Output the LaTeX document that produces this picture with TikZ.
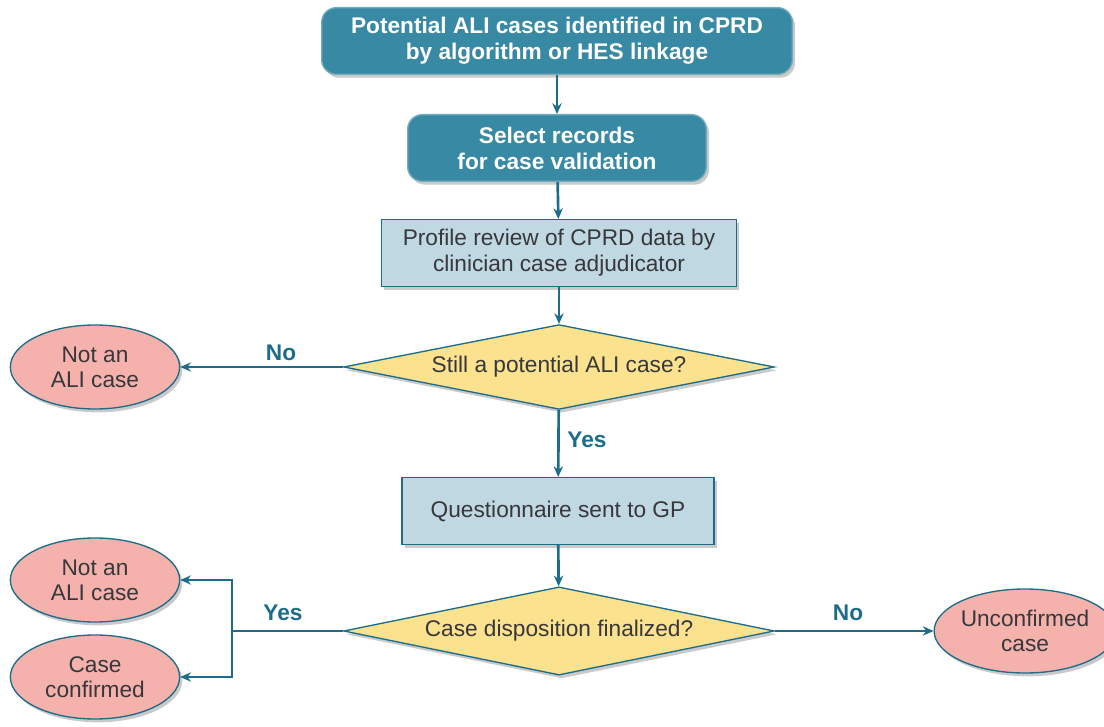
\documentclass[tikz,border=0pt]{standalone}
\usepackage{fontspec}
\setmainfont{Liberation Sans}
\usetikzlibrary{shapes.geometric,shadows,arrows.meta}

\definecolor{tealfill}{RGB}{56,137,163}
\definecolor{tealline}{RGB}{28,108,138}
\definecolor{paleblue}{RGB}{192,216,226}
\definecolor{sandfill}{RGB}{250,226,142}
\definecolor{pinkfill}{RGB}{245,178,172}
\definecolor{darktext}{RGB}{55,55,60}

\tikzset{every picture/.style={line width=0.75pt}}
\tikzset{
  shade/.style={drop shadow={shadow xshift=2pt,shadow yshift=-2.5pt,opacity=0.35,fill=black!60}},
  roundbox/.style={shade,rounded corners=11pt,fill=tealfill,draw=tealfill!70!white,line width=1pt,
    text=white,font=\bfseries\fontsize{17}{19.5}\selectfont,align=center,minimum height=50pt},
  plainbox/.style={shade,rectangle,fill=paleblue,draw=tealline,line width=1pt,
    text=darktext,font=\fontsize{17}{19.5}\selectfont,align=center,minimum height=50pt},
  query/.style={shade,diamond,fill=sandfill,draw=tealline,line width=1pt,inner sep=0pt,shape aspect=4,
    text=darktext,font=\fontsize{17}{19.5}\selectfont,minimum width=323pt},
  result/.style={shade,ellipse,fill=pinkfill,draw=tealline,line width=1pt,inner sep=0pt,
    text=darktext,font=\fontsize{17}{19}\selectfont,align=center,minimum width=127pt,minimum height=63pt},
  flow/.style={draw=tealline,line width=2pt,-{Stealth[length=8pt,width=7pt]}},
  answer/.style={text=tealline,font=\bfseries\fontsize{17}{19}\selectfont}
}

\begin{document}
\begin{tikzpicture}[x=0.75pt,y=0.75pt,yscale=-1,xscale=1]
\useasboundingbox (0,0) rectangle (1104,727);

% boxes
\node[roundbox,minimum width=353pt] (potential) at (557,41) {Potential ALI cases identified in CPRD\\by algorithm or HES linkage};
\node[roundbox,minimum width=224pt] (select) at (557,148) {Select records\\for case validation};
\node[plainbox,minimum width=266pt] (profile) at (559,253) {Profile review of CPRD data by\\clinician case adjudicator};
\node[query] (still) at (559,367) {Still a potential ALI case?};
\node[plainbox,minimum width=234pt] (questionnaire) at (558,511) {Questionnaire sent to GP};
\node[query] (final) at (559,631) {Case disposition finalized?};

% outcomes
\node[result] (notali) at (95,367) {Not an\\ALI case};
\node[result] (notalitwo) at (95,580) {Not an\\ALI case};
\node[result] (confirmed) at (95,677) {Case\\confirmed};
\node[result] (unconfirmed) at (1025,631) {Unconfirmed\\case};

% connectors
\draw[flow] (potential) -- (select);
\draw[flow] (select) -- (profile);
\draw[flow] (profile) -- (still);
\draw[flow] (still.west) -- (notali);
\draw[flow] (still) -- (questionnaire);
\draw[flow] (questionnaire) -- (final);
\draw[flow] (final.east) -- (unconfirmed);
\coordinate (split) at (232,631);
\draw[flow,-] (final.west) -- (split);
\draw[flow] (split) |- (notalitwo.east);
\draw[flow] (split) |- (confirmed.east);

% labels
\node[answer] (nofirst) at (281,353) {No};
\node[answer] (yesfirst) at (587,440) {Yes};
\node[answer] (yessecond) at (283,613) {Yes};
\node[answer] (nosecond) at (848,613) {No};

\end{tikzpicture}
\end{document}
